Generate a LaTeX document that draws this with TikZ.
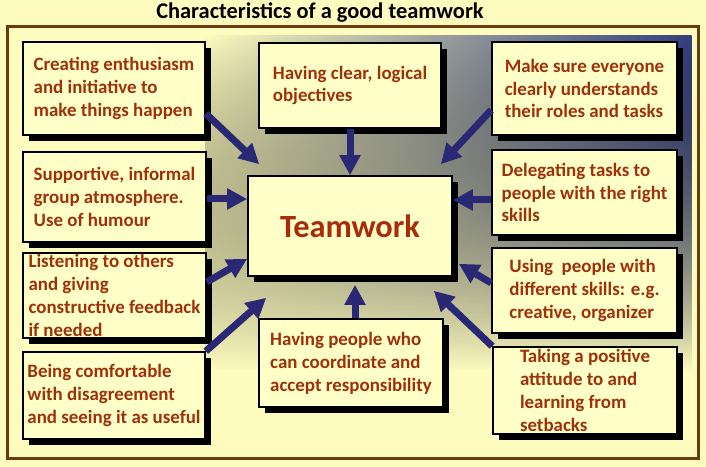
\documentclass[tikz,border=0pt]{standalone}
\usepackage{fontspec}
\setmainfont{Carlito}
\usepackage{tikz}
\usetikzlibrary{arrows.meta, positioning, shadows, fadings}
\definecolor{paleground}{HTML}{FDFBBE}
\definecolor{cardfill}{HTML}{FFFFC8}
\definecolor{framebrown}{HTML}{6B3A0E}
\definecolor{slateblue}{HTML}{34407E}
\definecolor{misty}{HTML}{A9AAAE}
\definecolor{arrownavy}{HTML}{2A2874}
\definecolor{textrust}{HTML}{A0300A}

\begin{document}
\begin{tikzpicture}[x=1bp, y=-1bp, >={Triangle[width=20bp, length=20bp]},
    card/.style={draw=black, line width=1.6bp, fill=cardfill, text=textrust,
        font=\fontsize{19}{23}\selectfont\bfseries, align=left,
        inner xsep=0bp, inner ysep=0bp,
        drop shadow={fill=black, opacity=1, shadow xshift=6bp, shadow yshift=-6bp}},
    link/.style={->, arrownavy, line width=7bp}]
    \useasboundingbox (0,0) rectangle (706,467);
    \fill[paleground] (0,0) rectangle (706,467);
    \fill[left color=paleground, middle color=misty, right color=slateblue, path fading=south] (205,36) rectangle (692,370);
    \draw[framebrown, line width=3bp] (7,27) rectangle (698,458);
    \node[font=\fontsize{22.5}{26}\selectfont\bfseries] (title) at (320,13) {Characteristics of a good teamwork};

    \node[card, minimum width=182bp, minimum height=93bp] at (114,88.5) (enthus) {Creating enthusiasm\\and initiative to\\make things happen};
    \node[card, minimum width=182bp, minimum height=85bp] at (350,85.5) (clear) {Having clear, logical\\objectives};
    \node[card, minimum width=185bp, minimum height=93bp] at (584.5,88.5) (roles) {Make sure everyone\\clearly understands\\their roles and tasks};
    \node[card, minimum width=183bp, minimum height=90bp] at (114.5,197) (support) {Supportive, informal\\group atmosphere.\\Use of humour};
    \node[card, minimum width=185bp, minimum height=85bp] at (584.5,192.5) (delegate) {Delegating tasks to\\people with the right\\skills};
    \node[card, minimum width=204bp, minimum height=100bp, font=\fontsize{32.5}{36}\selectfont\bfseries, text=textrust!90!red] at (350,226) (team) {Teamwork};
    \node[card, minimum width=183bp, minimum height=85bp] at (114.5,295.5) (listen) {Listening to others\\and giving\\constructive feedback\\if needed};
    \node[card, minimum width=185bp, minimum height=85bp] at (584.5,290.5) (skills) {Using~ people with\\different skills: e.g.\\creative, organizer};
    \node[card, minimum width=182bp, minimum height=87bp] at (114,395.5) (disagree) {Being comfortable\\with disagreement\\and seeing it as useful};
    \node[card, minimum width=184bp, minimum height=88bp] at (351,363) (coord) {Having people who\\can coordinate and\\accept responsibility};
    \node[card, minimum width=184bp, minimum height=87bp] at (585,390.5) (setback) {Taking a positive\\attitude to and\\learning from\\setbacks};

    \draw[link] ([yshift=-25bp]enthus.east) -- ([xshift=12bp, yshift=11bp]team.north west);
    \draw[link] (clear.south) -- (team.north);
    \draw[link] ([yshift=-21.5bp]roles.west) -- ([xshift=-12bp, yshift=11bp]team.north east);
    \draw[link] ([yshift=-2bp]support.east) -- ([yshift=-2bp]support.east -| team.west);
    \draw[link] ([yshift=-7.5bp]delegate.west) -- ([yshift=-7.5bp]delegate.west -| team.east);
    \draw[link] ([yshift=13.5bp]listen.east) -- ([yshift=18bp]team.south west);
    \draw[link] ([yshift=7.5bp]skills.west) -- ([xshift=6bp, yshift=13bp]team.south east);
    \draw[link] (disagree.north east) -- ([xshift=19bp, yshift=-21bp]team.south west);
    \draw[link] ([xshift=4bp]coord.north) -- ([xshift=5bp, yshift=-8bp]team.south);
    \draw[link] (setback.north west) -- ([xshift=-19bp, yshift=-14bp]team.south east);
\end{tikzpicture}
\end{document}
